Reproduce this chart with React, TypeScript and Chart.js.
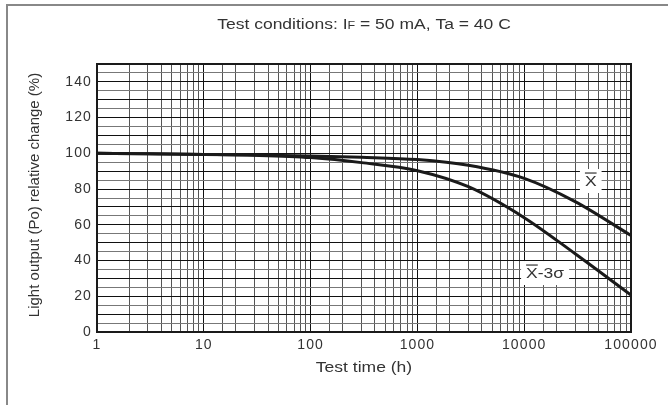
import React, { useEffect, useRef } from "react";
import { Chart, registerables } from "chart.js";

Chart.register(...registerables);

const testTimes = [1, 3, 10, 30, 100, 300, 1000, 3000, 10000, 30000, 100000];
const meanValues = [100, 99.8, 99.4, 99.0, 98.5, 97.8, 96.5, 93.3, 86.0, 73.0, 54.0];
const minus3SigmaValues = [100, 99.8, 99.4, 98.9, 97.6, 94.8, 90.3, 81.3, 64.0, 43.8, 20.7];
const decadeLabels = [1, 10, 100, 1000, 10000, 100000];
const yTickLabels = [0, 20, 40, 60, 80, 100, 120, 140];

const titleMain = "Test conditions: I";
const titleSub = "F";
const titleRest = " = 50 mA, Ta = 40 C";
const xTitle = "Test time (h)";
const yTitle = "Light output (Po) relative change (%)";
const curveLabels = [
  { main: "X", suffix: "", x: 42000, y: 84.5 },
  { main: "X", suffix: "-3σ", x: 15700, y: 33 },
];

const FONT = "'Liberation Sans', Arial, sans-serif";
const TEXT = "#333";
const HX = 1.25; // horizontal glyph stretch seen in the reference

const decorPlugin = {
  id: "decor",
  beforeDraw(chart: any) {
    const ctx = chart.ctx;
    ctx.save();
    ctx.fillStyle = "#fff";
    ctx.fillRect(0, 0, chart.width, chart.height);
    ctx.restore();
    ctx.letterSpacing = "1.1px";
  },
  afterDraw(chart: any) {
    const ctx = chart.ctx;
    ctx.letterSpacing = "0px";
    const area = chart.chartArea;
    const xs = chart.scales.x;
    const ys = chart.scales.y;
    ctx.save();
    // outer frame
    ctx.strokeStyle = "#888";
    ctx.lineWidth = 2;
    ctx.strokeRect(7, 5, 700, 500);
    // plot frame
    ctx.strokeStyle = "#1a1a1a";
    ctx.lineWidth = 2;
    ctx.strokeRect(area.left, area.top, area.right - area.left, area.bottom - area.top);

    const stretchedText = (parts: { t: string; size: number; dy: number }[], cx: number, cy: number) => {
      let total = 0;
      for (const p of parts) {
        ctx.font = `${p.size}px ${FONT}`;
        total += ctx.measureText(p.t).width;
      }
      ctx.save();
      ctx.translate(cx, cy);
      ctx.scale(HX, 1);
      let x = -total / 2;
      ctx.textAlign = "left";
      ctx.textBaseline = "middle";
      for (const p of parts) {
        ctx.font = `${p.size}px ${FONT}`;
        ctx.fillText(p.t, x, p.dy);
        x += ctx.measureText(p.t).width;
      }
      ctx.restore();
      return total * HX;
    };

    ctx.fillStyle = TEXT;
    const cx = (area.left + area.right) / 2;
    // title
    stretchedText(
      [
        { t: titleMain, size: 14, dy: 0 },
        { t: titleSub, size: 10, dy: 1 },
        { t: titleRest, size: 14, dy: 0 },
      ],
      cx,
      25
    );
    // x title
    stretchedText([{ t: xTitle, size: 14, dy: 0 }], cx, 368);

    // y title (vertical)
    ctx.save();
    ctx.font = `15px ${FONT}`;
    ctx.textAlign = "center";
    ctx.textBaseline = "middle";
    ctx.translate(35, (area.top + area.bottom) / 2 - 3);
    ctx.rotate(-Math.PI / 2);
    ctx.fillText(yTitle, 0, 0);
    ctx.restore();

    // curve labels
    for (const lab of curveLabels) {
      const px = xs.getPixelForValue(lab.x);
      const py = ys.getPixelForValue(lab.y);
      ctx.font = `14px ${FONT}`;
      const full = lab.main + lab.suffix;
      const tw = ctx.measureText(full).width * HX;
      const mw = ctx.measureText(lab.main).width * HX;
      const bw = tw + 10;
      const bh = 24;
      ctx.fillStyle = "#fff";
      ctx.fillRect(px - bw / 2, py - bh / 2, bw, bh);
      ctx.fillStyle = TEXT;
      stretchedText([{ t: full, size: 14, dy: 1 }], px, py);
      const sx = px - tw / 2;
      ctx.strokeStyle = TEXT;
      ctx.lineWidth = 1.2;
      ctx.beginPath();
      ctx.moveTo(sx, py - 8);
      ctx.lineTo(sx + mw, py - 8);
      ctx.stroke();
    }
    ctx.restore();
  },
};

function isDecade(v: number) {
  const l = Math.log10(v);
  return Math.abs(l - Math.round(l)) < 1e-9;
}

export default function App() {
  const ref = useRef<HTMLCanvasElement | null>(null);
  useEffect(() => {
    if (!ref.current) return;
    const chart = new Chart(ref.current, {
      type: "line",
      data: {
        datasets: [
          {
            label: "X",
            data: testTimes.map((t, i) => ({ x: t, y: meanValues[i] })),
            borderColor: "#1a1a1a",
            borderWidth: 3,
            pointRadius: 0,
            cubicInterpolationMode: "monotone",
          },
          {
            label: "X-3σ",
            data: testTimes.map((t, i) => ({ x: t, y: minus3SigmaValues[i] })),
            borderColor: "#1a1a1a",
            borderWidth: 3,
            pointRadius: 0,
            cubicInterpolationMode: "monotone",
          },
        ],
      },
      options: {
        responsive: false,
        animation: false,
        layout: { padding: { top: 64, right: 37, left: 0, bottom: 0 } },
        plugins: { legend: { display: false }, tooltip: { enabled: false }, title: { display: false } },
        scales: {
          x: {
            type: "logarithmic",
            min: 1,
            max: 100000,
            afterFit: (s: any) => {
              s.height = 73;
            },
            border: { display: false },
            grid: {
              drawTicks: false,
              color: (c: any) => (c.tick && isDecade(c.tick.value) ? "#111" : "#555"),
              lineWidth: 1,
            },
            ticks: {
              autoSkip: false,
              maxRotation: 0,
              padding: 5,
              color: TEXT,
              font: { family: FONT, size: 14 },
              callback: (v: any) => {
                const n = Number(v);
                return decadeLabels.some((d) => Math.abs(d - n) < 1e-6) ? String(Math.round(n)) : "";
              },
            },
          },
          y: {
            min: 0,
            max: 150,
            afterFit: (s: any) => {
              s.width = 97;
            },
            border: { display: false },
            grid: {
              drawTicks: false,
              color: (c: any) => (c.tick && c.tick.value % 10 === 0 ? "#111" : "#777"),
              lineWidth: 1,
            },
            ticks: {
              stepSize: 5,
              autoSkip: false,
              padding: 5,
              color: TEXT,
              font: { family: FONT, size: 14 },
              callback: (v: any) => (yTickLabels.includes(Number(v)) ? String(v) : ""),
            },
          },
        },
      },
      plugins: [decorPlugin],
    } as any);
    return () => chart.destroy();
  }, []);
  return (
    <div style={{ position: "fixed", left: 0, top: 0, width: 668, height: 405 }}>
      <canvas ref={ref} width={668} height={405} style={{ width: 668, height: 405, display: "block" }} />
    </div>
  );
}
